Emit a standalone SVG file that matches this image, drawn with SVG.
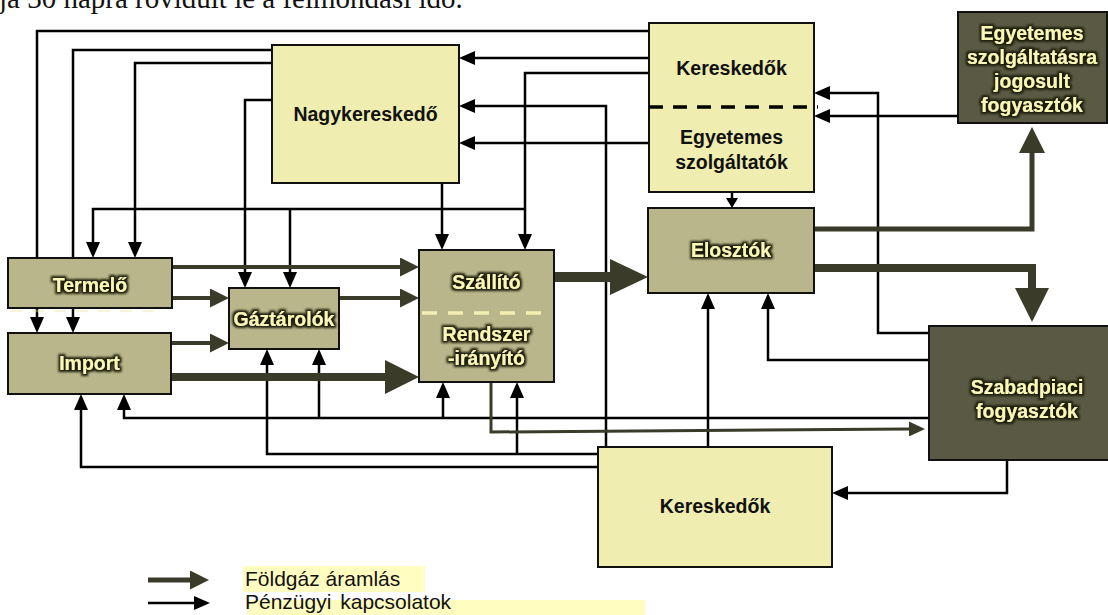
<svg xmlns="http://www.w3.org/2000/svg" width="1108" height="615" viewBox="0 0 1108 615">
  <style>
    .box-light { fill: #EFEDB0; stroke: #111; stroke-width: 2; }
    .box-olive { fill: #B8B68A; stroke: #111; stroke-width: 2; }
    .box-dark  { fill: #5A5A44; stroke: #111; stroke-width: 2; }
    .lbl-dark  { font-family: "Liberation Sans", Arial, sans-serif; font-weight: bold; font-size: 19.5px; fill: #111; text-anchor: middle; }
    .lbl-light { font-family: "Liberation Sans", Arial, sans-serif; font-weight: bold; font-size: 19.5px; fill: #FBF7B6; text-anchor: middle; filter: url(#glow); }
    .fin { fill: none; stroke: #000; stroke-width: 2.5; }
    .gas { fill: none; stroke: #3B3B2A; }
    .legend { font-family: "Liberation Sans", Arial, sans-serif; font-size: 21px; fill: #111; }
  </style>
  <defs>
    <filter id="glow" x="-15%" y="-40%" width="130%" height="180%">
      <feMorphology in="SourceAlpha" operator="dilate" radius="1.6" result="d"/>
      <feGaussianBlur in="d" stdDeviation="0.9" result="b"/>
      <feFlood flood-color="#1c1c0a"/>
      <feComposite in2="b" operator="in" result="s"/>
      <feMerge><feMergeNode in="s"/><feMergeNode in="SourceGraphic"/></feMerge>
    </filter>
    <marker id="fin" markerUnits="userSpaceOnUse" markerWidth="16" markerHeight="14" refX="0" refY="7" orient="auto">
      <path d="M0,0 L16,7 L0,14 z" fill="#000"/>
    </marker>
    <marker id="finS" markerUnits="userSpaceOnUse" markerWidth="10" markerHeight="12" refX="0" refY="6" orient="auto">
      <path d="M0,0 L10,6 L0,12 z" fill="#000"/>
    </marker>
    <marker id="gas16" markerUnits="userSpaceOnUse" markerWidth="16" markerHeight="15" refX="0" refY="7.5" orient="auto">
      <path d="M0,0 L16,7.5 L0,15 z" fill="#3B3B2A"/>
    </marker>
    <marker id="gas19" markerUnits="userSpaceOnUse" markerWidth="19" markerHeight="19" refX="0" refY="9.5" orient="auto">
      <path d="M0,0 L19,9.5 L0,19 z" fill="#3B3B2A"/>
    </marker>
    <marker id="gas26" markerUnits="userSpaceOnUse" markerWidth="26" markerHeight="26" refX="0" refY="13" orient="auto">
      <path d="M0,0 L26,13 L0,26 z" fill="#3B3B2A"/>
    </marker>
    <marker id="gas34" markerUnits="userSpaceOnUse" markerWidth="34" markerHeight="34" refX="0" refY="17" orient="auto">
      <path d="M0,0 L34,17 L0,34 z" fill="#3B3B2A"/>
    </marker>
    <marker id="gas38" markerUnits="userSpaceOnUse" markerWidth="38" markerHeight="36" refX="0" refY="18" orient="auto">
      <path d="M0,0 L38,18 L0,36 z" fill="#3B3B2A"/>
    </marker>
  </defs>

  <rect width="1108" height="615" fill="#fff"/>

  <!-- running text above the figure -->
  <text x="-1" y="8" font-family="'Liberation Serif', 'Times New Roman', serif" font-size="29" fill="#111">ja 30 napra rövidült le a felmondási idő.</text>

  <!-- legend highlights -->
  <rect x="243" y="566" width="182" height="26" fill="#FFFDC0"/>
  <rect x="247" y="600" width="398" height="15" fill="#FFFDC0"/>

  <g id="connectors">
    <g id="financial" class="fin">
      <path d="M649,31 H37 V317" marker-end="url(#fin)"/>
      <path d="M272,50 H73 V317" marker-end="url(#fin)"/>
      <path d="M272,63 H135 V242" marker-end="url(#fin)"/>
      <path d="M272,100 H245 V272" marker-end="url(#fin)"/>
      <path d="M649,73 H525 V234" marker-end="url(#fin)"/>
      <path d="M525,209 H93 V242" marker-end="url(#fin)"/>
      <path d="M290,209 V272" marker-end="url(#fin)"/>
      <path d="M442,183 V234" marker-end="url(#fin)"/>
      <path d="M649,58 H475" marker-end="url(#fin)"/>
      <path d="M649,143 H475" marker-end="url(#fin)"/>
      <path d="M606,447 V106 H475" marker-end="url(#fin)"/>
      <path d="M732,192 V198" marker-end="url(#finS)"/>
      <path d="M958,116 H830" marker-end="url(#fin)"/>
      <path d="M929,333 H878 V93 H830" marker-end="url(#fin)"/>
      <path d="M929,360 H768 V309" marker-end="url(#fin)"/>
      <path d="M1007,460 V493 H848" marker-end="url(#fin)"/>
      <path d="M708,447 V309" marker-end="url(#fin)"/>
      <path d="M598,467 H81 V410" marker-end="url(#fin)"/>
      <path d="M598,454 H267 V365" marker-end="url(#fin)"/>
      <path d="M517,454 V398" marker-end="url(#fin)"/>
      <path d="M929,418 H124 V410" marker-end="url(#fin)"/>
      <path d="M319,418 V365" marker-end="url(#fin)"/>
      <path d="M443,418 V398" marker-end="url(#fin)"/>
    </g>
    <g id="gasflow" class="gas">
      <path d="M172,267 H400" stroke-width="4" marker-end="url(#gas19)"/>
      <path d="M172,298 H210" stroke-width="4" marker-end="url(#gas19)"/>
      <path d="M171,343 H210" stroke-width="4" marker-end="url(#gas19)"/>
      <path d="M339,298 H400" stroke-width="4" marker-end="url(#gas19)"/>
      <path d="M171,377 H385" stroke-width="8" marker-end="url(#gas34)"/>
      <path d="M554,277 H610" stroke-width="10" marker-end="url(#gas38)"/>
      <path d="M814,229 H1032 V153" stroke-width="5" marker-end="url(#gas26)"/>
      <path d="M814,268 H1032 V288" stroke-width="8" marker-end="url(#gas34)"/>
      <path d="M491,382 V432 L909,429" stroke-width="3" marker-end="url(#gas16)"/>
    </g>
  </g>

  <g id="nagykereskedo">
    <rect class="box-light" x="272" y="45" width="187" height="138"/>
    <text class="lbl-dark" x="365.5" y="121">Nagykereskedő</text>
  </g>

  <g id="kereskedok-egyetemes">
    <rect class="box-light" x="649" y="23" width="165" height="169"/>
    <line x1="649" y1="107" x2="818" y2="107" stroke="#000" stroke-width="3.5" stroke-dasharray="14,10"/>
    <text class="lbl-dark" x="731.5" y="75">Kereskedők</text>
    <text class="lbl-dark" x="731.5" y="144">Egyetemes</text>
    <text class="lbl-dark" x="731.5" y="169">szolgáltatók</text>
  </g>

  <g id="egyetemes-fogyasztok">
    <rect class="box-dark" x="958" y="12" width="149" height="111"/>
    <text class="lbl-light" x="1032" y="40">Egyetemes</text>
    <text class="lbl-light" x="1032" y="64">szolgáltatásra</text>
    <text class="lbl-light" x="1032" y="88">jogosult</text>
    <text class="lbl-light" x="1032" y="112">fogyasztók</text>
  </g>

  <g id="elosztok">
    <rect class="box-olive" x="648" y="208" width="166" height="85"/>
    <text class="lbl-light" x="731" y="257">Elosztók</text>
  </g>

  <g id="termelo">
    <rect class="box-olive" x="8" y="258" width="164" height="50"/>
    <line x1="10" y1="311" x2="165" y2="311" stroke="#EDE6A0" stroke-width="2.5" stroke-dasharray="12,10" opacity="0.4"/>
    <text class="lbl-light" x="90" y="292">Termelő</text>
  </g>

  <g id="import">
    <rect class="box-olive" x="8" y="333" width="163" height="61"/>
    <text class="lbl-light" x="89.5" y="370">Import</text>
  </g>

  <g id="gaztarolok">
    <rect class="box-olive" x="229" y="288" width="110" height="61"/>
    <text class="lbl-light" x="284" y="326">Gáztárolók</text>
  </g>

  <g id="szallito">
    <rect class="box-olive" x="419" y="250" width="135" height="132"/>
    <line x1="422" y1="313" x2="548" y2="313" stroke="#F3EFB2" stroke-width="3.5" stroke-dasharray="15,11"/>
    <text class="lbl-light" x="486.5" y="289">Szállító</text>
    <text class="lbl-light" x="486.5" y="341">Rendszer</text>
    <text class="lbl-light" x="486.5" y="365">-irányító</text>
  </g>

  <g id="szabadpiaci">
    <rect class="box-dark" x="929" y="326" width="180" height="134"/>
    <text class="lbl-light" x="1027" y="394">Szabadpiaci</text>
    <text class="lbl-light" x="1027" y="418">fogyasztók</text>
  </g>

  <g id="kereskedok">
    <rect class="box-light" x="598" y="447" width="234" height="120"/>
    <text class="lbl-dark" x="715" y="513">Kereskedők</text>
  </g>

  <g id="legend">
    <path d="M148,580 H190" class="gas" stroke-width="5" marker-end="url(#gas19)"/>
    <path d="M148,603 H194" class="fin" stroke-width="3" marker-end="url(#fin)"/>
    <text class="legend" x="245" y="586">Földgáz áramlás</text>
    <text class="legend" x="245" y="609" word-spacing="3">Pénzügyi kapcsolatok</text>
  </g>
</svg>
